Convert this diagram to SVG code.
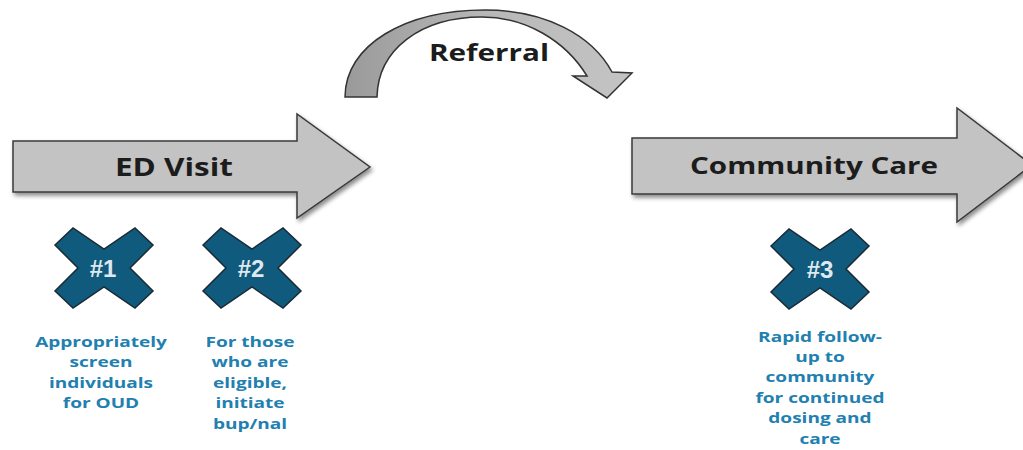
<svg xmlns="http://www.w3.org/2000/svg" width="1023" height="450" viewBox="0 0 1023 450">
<defs>
<filter id="sh" x="-10%" y="-10%" width="130%" height="140%">
<feDropShadow dx="2" dy="3" stdDeviation="2" flood-color="#000" flood-opacity="0.45"/>
</filter>
<linearGradient id="arcg" x1="0" y1="0" x2="1" y2="0">
<stop offset="0" stop-color="#9a9a9a"/>
<stop offset="0.5" stop-color="#b8b8b8"/>
<stop offset="1" stop-color="#c4c4c4"/>
</linearGradient>
<path id="xmark" d="M-49,-23 L-31,-40 L0,-19 L31,-40 L49,-23 L26,0 L49,23 L31,40 L0,19 L-31,40 L-49,23 L-26,0 Z"/>
</defs>
<style>
.arrow{fill:#c3c3c3;stroke:#3a3a3a;stroke-width:1.5;filter:url(#sh)}
.big{font-family:"Open Sans","Liberation Sans",sans-serif;font-weight:bold;fill:#1c1c1c;text-anchor:middle}
.x{fill:#0f5a7d;stroke:#1b2b36;stroke-width:1.5}
.num{font-family:"Liberation Sans",Arial,sans-serif;font-weight:bold;font-size:24px;fill:#dfe8ee;text-anchor:middle}
.desc{font-family:"Open Sans","Liberation Sans",sans-serif;font-weight:bold;font-size:15px;fill:#2180b0;text-anchor:middle}
</style>
<g id="ed-visit">
<path class="arrow" d="M13,141 L297,141 L297,114 L370,167 L297,218 L297,192 L13,192 Z"/>
<text class="big" x="174" y="176" font-size="25" textLength="118" lengthAdjust="spacingAndGlyphs">ED Visit</text>
</g>
<g id="referral">
<path d="M345,97 C345,45 405,10 485,10 C545,10 592,35 612,72 L632,73 L607,98 L573,76 L587,76 C565,40 525,17 482,17 C420,17 378,50 377,97 Z" fill="url(#arcg)" stroke="#333" stroke-width="1.5"/>
<text class="big" x="489" y="61" font-size="24" textLength="120" lengthAdjust="spacingAndGlyphs">Referral</text>
</g>
<g id="community-care">
<path class="arrow" d="M632,138 L957,138 L957,108 L1032,165 L957,222 L957,194 L632,194 Z"/>
<text class="big" x="814" y="174" font-size="24" textLength="248" lengthAdjust="spacingAndGlyphs">Community Care</text>
</g>
<g id="step1">
<use href="#xmark" class="x" transform="translate(104,268)"/>
<text class="num" x="103" y="277">#1</text>
<g transform="translate(101,0) scale(1.27,1)">
<text class="desc"><tspan x="0" y="347">Appropriately</tspan><tspan x="0" y="367">screen</tspan><tspan x="0" y="388">individuals</tspan><tspan x="0" y="408">for OUD</tspan></text>
</g>
</g>
<g id="step2">
<use href="#xmark" class="x" transform="translate(252,268)"/>
<text class="num" x="251" y="277">#2</text>
<g transform="translate(250,0) scale(1.27,1)">
<text class="desc"><tspan x="0" y="347">For those</tspan><tspan x="0" y="367">who are</tspan><tspan x="0" y="388">eligible,</tspan><tspan x="0" y="408">initiate</tspan><tspan x="0" y="429">bup/nal</tspan></text>
</g>
</g>
<g id="step3">
<use href="#xmark" class="x" transform="translate(820,269)"/>
<text class="num" x="820" y="278">#3</text>
<g transform="translate(820,0) scale(1.27,1)">
<text class="desc"><tspan x="0" y="342">Rapid follow-</tspan><tspan x="0" y="362">up to</tspan><tspan x="0" y="382">community</tspan><tspan x="0" y="403">for continued</tspan><tspan x="0" y="423">dosing and</tspan><tspan x="0" y="444">care</tspan></text>
</g>
</g>
</svg>
